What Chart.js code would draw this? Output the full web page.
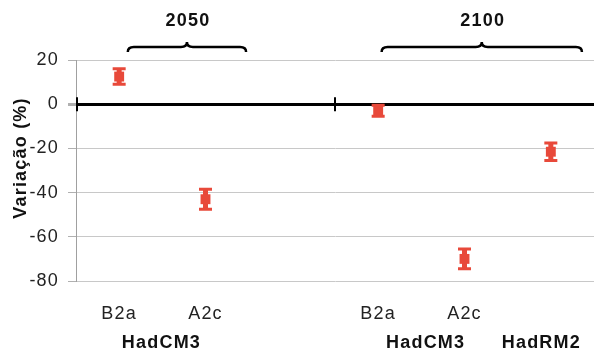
<!DOCTYPE html>
<html>
<head>
<meta charset="utf-8">
<script src="https://cdn.jsdelivr.net/npm/chart.js@4"></script>
<style>
  html, body { margin: 0; padding: 0; background: #fff; }
  #wrap { width: 594px; height: 355px; position: relative; }
</style>
</head>
<body>
<div id="wrap"><canvas id="chart"></canvas></div>
<script>
// scenarios on the category axis (third slot is the gap between 2050 and 2100)
const categories = ['B2a', 'A2c', '', 'B2a', 'A2c', ''];
const values = [12.5, -43, null, -3, -70, -21.5];
const errLow = [9, -47.5, null, -5.5, -74.5, -25.5];
const errHigh = [16, -38.5, null, -0.5, -65.5, -17.5];
const modelNames = ['HadCM3', 'HadCM3', 'HadRM2'];
const periods = ['2050', '2100'];
const yTitle = 'Variação (%)';

const RED = '#e8493a';
const FONT = "'Liberation Sans', Arial, sans-serif";
const SPACING = '1.2px';

// label/brace anchors in category-index units
const modelAt = [0.49, 3.55, 4.89];
const periodSpan = [[0.1, 1.47], [3.04, 5.36]];
const dividers = [-0.5, 2.5];

const textSpacing = {
  id: 'textSpacing',
  beforeDraw(chart) { chart.ctx.letterSpacing = SPACING; }
};

const errorBars = {
  id: 'errorBars',
  beforeDatasetsDraw(chart) {
    const { ctx, scales: { x, y } } = chart;
    ctx.save();
    ctx.strokeStyle = RED;
    values.forEach((v, i) => {
      if (v === null) return;
      const px = x.getPixelForValue(i);
      const lo = y.getPixelForValue(errLow[i]);
      const hi = y.getPixelForValue(errHigh[i]);
      ctx.lineWidth = 5;
      ctx.beginPath();
      ctx.moveTo(px, lo); ctx.lineTo(px, hi);
      ctx.stroke();
      ctx.lineWidth = 3;
      ctx.beginPath();
      ctx.moveTo(px - 6.5, lo); ctx.lineTo(px + 6.5, lo);
      ctx.moveTo(px - 6.5, hi); ctx.lineTo(px + 6.5, hi);
      ctx.stroke();
    });
    ctx.restore();
  }
};

const decorations = {
  id: 'decorations',
  afterDraw(chart) {
    const { ctx, scales: { x, y } } = chart;
    ctx.save();
    // small vertical marks on the zero line
    const y0 = y.getPixelForValue(0);
    ctx.strokeStyle = '#000';
    ctx.lineWidth = 2;
    dividers.forEach(d => {
      const px = Math.max(x.getPixelForValue(d), chart.chartArea.left + 1);
      ctx.beginPath();
      ctx.moveTo(px, y0 - 7); ctx.lineTo(px, y0 + 7);
      ctx.stroke();
    });

    ctx.letterSpacing = SPACING;
    ctx.fillStyle = '#111';
    ctx.textAlign = 'center';
    ctx.textBaseline = 'middle';

    // y axis title
    ctx.save();
    ctx.translate(21, 158);
    ctx.rotate(-Math.PI / 2);
    ctx.font = 'bold 18px ' + FONT;
    ctx.fillText(yTitle, 0, 0);
    ctx.restore();

    // model names under the scenario labels
    ctx.font = 'bold 18px ' + FONT;
    modelNames.forEach((m, i) => {
      ctx.fillText(m, x.getPixelForValue(modelAt[i]), 343);
    });

    // period braces and labels above the plot
    ctx.lineWidth = 2.5;
    periods.forEach((p, i) => {
      const x1 = x.getPixelForValue(periodSpan[i][0]);
      const x2 = x.getPixelForValue(periodSpan[i][1]);
      const m = (x1 + x2) / 2;
      const yb = 47;
      ctx.beginPath();
      ctx.moveTo(x1, yb + 5);
      ctx.quadraticCurveTo(x1, yb, x1 + 6, yb);
      ctx.lineTo(m - 6, yb);
      ctx.quadraticCurveTo(m, yb, m, yb - 5);
      ctx.quadraticCurveTo(m, yb, m + 6, yb);
      ctx.lineTo(x2 - 6, yb);
      ctx.quadraticCurveTo(x2, yb, x2, yb + 5);
      ctx.stroke();
      ctx.fillText(p, m + 1, 21);
    });
    ctx.restore();
  }
};

new Chart(document.getElementById('chart'), {
  type: 'line',
  data: {
    labels: categories,
    datasets: [{
      label: 'Variação',
      data: values,
      showLine: false,
      pointStyle: 'rect',
      pointRadius: 7,
      pointBackgroundColor: RED,
      pointBorderColor: RED,
      pointBorderWidth: 0
    }]
  },
  options: {
    responsive: true,
    maintainAspectRatio: false,
    animation: false,
    layout: { autoPadding: false, padding: { top: 60, right: -3, left: 0, bottom: 0 } },
    plugins: {
      legend: { display: false },
      tooltip: { enabled: false }
    },
    scales: {
      x: {
        offset: true,
        grid: { display: false, drawTicks: true, tickLength: 20 },
        border: { display: false },
        ticks: {
          color: '#222',
          font: { family: FONT, size: 18 },
          padding: 2,
          maxRotation: 0,
          autoSkip: false
        },
        afterFit(scale) { scale.height = 74; }
      },
      y: {
        min: -80,
        max: 20,
        ticks: {
          stepSize: 20,
          color: '#222',
          font: { family: FONT, size: 18 },
          padding: 9
        },
        grid: {
          color: c => c.tick && c.tick.value === 0 ? '#000' : '#c8c8c8',
          lineWidth: c => c.tick && c.tick.value === 0 ? 3 : 1,
          tickColor: '#b0b0b0',
          tickLength: 8
        },
        border: { color: '#a0a0a0', width: 1 },
        afterFit(scale) { scale.width = 76; }
      }
    }
  },
  plugins: [textSpacing, errorBars, decorations]
});
</script>
</body>
</html>
